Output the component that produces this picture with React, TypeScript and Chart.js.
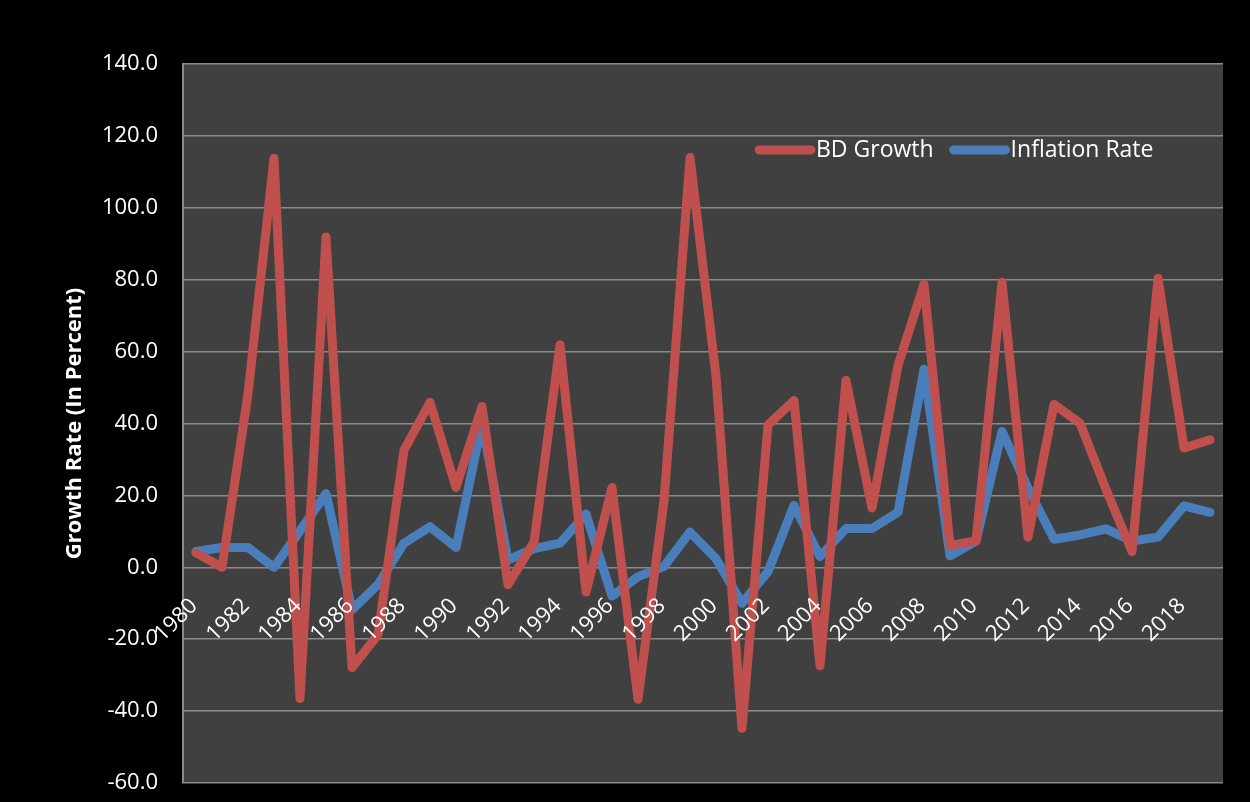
import React, { useEffect, useRef } from "react";
import { Chart, registerables } from "chart.js";

Chart.register(...registerables);

const years: string[] = [
  "1980", "1981", "1982", "1983", "1984", "1985", "1986", "1987", "1988", "1989",
  "1990", "1991", "1992", "1993", "1994", "1995", "1996", "1997", "1998", "1999",
  "2000", "2001", "2002", "2003", "2004", "2005", "2006", "2007", "2008", "2009",
  "2010", "2011", "2012", "2013", "2014", "2015", "2016", "2017", "2018", "2019",
];

const bdGrowth: number[] = [
  4.0, 0.0, 48.2, 113.8, -36.5, 91.9, -27.9, -18.7, 32.6, 45.9,
  22.2, 44.7, -4.8, 7.0, 61.9, -6.9, 22.2, -36.7, 18.5, 114.0,
  53.2, -44.8, 39.6, 46.4, -27.4, 52.0, 16.5, 56.2, 78.7, 6.1,
  7.3, 79.3, 8.4, 45.3, 40.1, 21.7, 4.4, 80.4, 33.2, 35.5,
];

const inflationRate: number[] = [
  4.4, 5.5, 5.5, 0.0, 10.1, 20.5, -11.8, -4.8, 6.7, 11.3,
  5.5, 40.1, 2.1, 5.2, 6.7, 14.8, -8.0, -2.6, 0.2, 9.8,
  2.4, -10.0, -1.2, 17.2, 3.0, 10.8, 10.8, 15.3, 55.1, 3.2,
  7.3, 37.8, 22.0, 7.8, 9.0, 10.7, 7.3, 8.4, 17.1, 15.3,
];

const seriesNames: string[] = ["BD Growth", "Inflation Rate"];
const yAxisTitle = "Growth Rate (In Percent)";

const RED = "#C0504D";
const BLUE = "#4A7EBB";
const FONT = "'Open Sans', 'DejaVu Sans', sans-serif";

const plotBgPlugin = {
  id: "plotBg",
  beforeDraw(chart: any) {
    const { ctx, chartArea } = chart;
    ctx.save();
    ctx.fillStyle = "#404040";
    ctx.fillRect(chartArea.left, chartArea.top, chartArea.right - chartArea.left, chartArea.bottom - chartArea.top);
    ctx.restore();
  },
};

const xLabelsPlugin = {
  id: "xLabels",
  afterDatasetsDraw(chart: any) {
    const { ctx } = chart;
    const xs = chart.scales.x;
    const ys = chart.scales.y;
    const y0 = ys.getPixelForValue(0);
    ctx.save();
    ctx.fillStyle = "#ffffff";
    ctx.font = `22px ${FONT}`;
    ctx.textAlign = "right";
    ctx.textBaseline = "middle";
    const labels = chart.data.labels as string[];
    labels.forEach((lab, i) => {
      if (i % 2 !== 0) return;
      const x = xs.getPixelForValue(i);
      ctx.save();
      ctx.translate(x - 2, y0 + 35);
      ctx.rotate(-Math.PI / 4);
      ctx.fillText(lab, 0, 0);
      ctx.restore();
    });
    ctx.restore();
  },
};

const legendPlugin = {
  id: "customLegend",
  afterDraw(chart: any) {
    const { ctx, chartArea } = chart;
    const ys = chart.scales.y;
    const y = ys.getPixelForValue(116.1);
    let x = chartArea.left + 572;
    ctx.save();
    ctx.font = `23px ${FONT}`;
    ctx.textBaseline = "middle";
    ctx.textAlign = "left";
    chart.data.datasets.forEach((ds: any) => {
      ctx.strokeStyle = ds.borderColor;
      ctx.lineWidth = 9;
      ctx.lineCap = "round";
      ctx.beginPath();
      ctx.moveTo(x + 4, y);
      ctx.lineTo(x + 56, y);
      ctx.stroke();
      ctx.fillStyle = "#ffffff";
      ctx.fillText(ds.label, x + 61, y + 1);
      x += 61 + ctx.measureText(ds.label).width + 16;
    });
    ctx.restore();
  },
};

export default function App() {
  const ref = useRef<HTMLCanvasElement | null>(null);

  useEffect(() => {
    document.body.style.margin = "0";
    document.body.style.background = "#000";
    if (!ref.current) return;
    const chart = new Chart(ref.current, {
      type: "line",
      data: {
        labels: years,
        datasets: [
          {
            label: seriesNames[0],
            data: bdGrowth,
            borderColor: RED,
            backgroundColor: RED,
            borderWidth: 9,
            pointRadius: 0,
            borderJoinStyle: "round",
            borderCapStyle: "round",
            tension: 0,
          },
          {
            label: seriesNames[1],
            data: inflationRate,
            borderColor: BLUE,
            backgroundColor: BLUE,
            borderWidth: 9,
            pointRadius: 0,
            borderJoinStyle: "round",
            borderCapStyle: "round",
            tension: 0,
          },
        ],
      },
      options: {
        responsive: false,
        animation: false,
        layout: { padding: { left: 0, top: 64, right: 27, bottom: 19 } },
        plugins: {
          legend: { display: false },
          tooltip: { enabled: false },
          title: { display: false },
        },
        scales: {
          x: {
            type: "category",
            offset: true,
            display: false,
          },
          y: {
            min: -60,
            max: 140,
            afterFit(scale: any) {
              scale.width = 183;
              scale.paddingTop = 0;
              scale.paddingBottom = 0;
            },
            ticks: {
              stepSize: 20,
              color: "#ffffff",
              padding: 25,
              font: { family: FONT, size: 22 },
              callback: (v: any) => Number(v).toFixed(1),
            },
            grid: {
              color: "#8a8a8a",
              lineWidth: 1.5,
              drawTicks: false,
            },
            border: { display: true, color: "#8a8a8a", width: 2 },
            title: {
              display: true,
              text: yAxisTitle,
              color: "#ffffff",
              font: { family: FONT, size: 22, weight: "bold" },
              padding: { top: 62, bottom: 0 },
            },
          },
        },
      },
      plugins: [plotBgPlugin, xLabelsPlugin, legendPlugin],
    });
    return () => chart.destroy();
  }, []);

  return (
    <div style={{ width: 1250, height: 802, background: "#000" }}>
      <canvas ref={ref} width={1250} height={802} style={{ display: "block" }} />
    </div>
  );
}
